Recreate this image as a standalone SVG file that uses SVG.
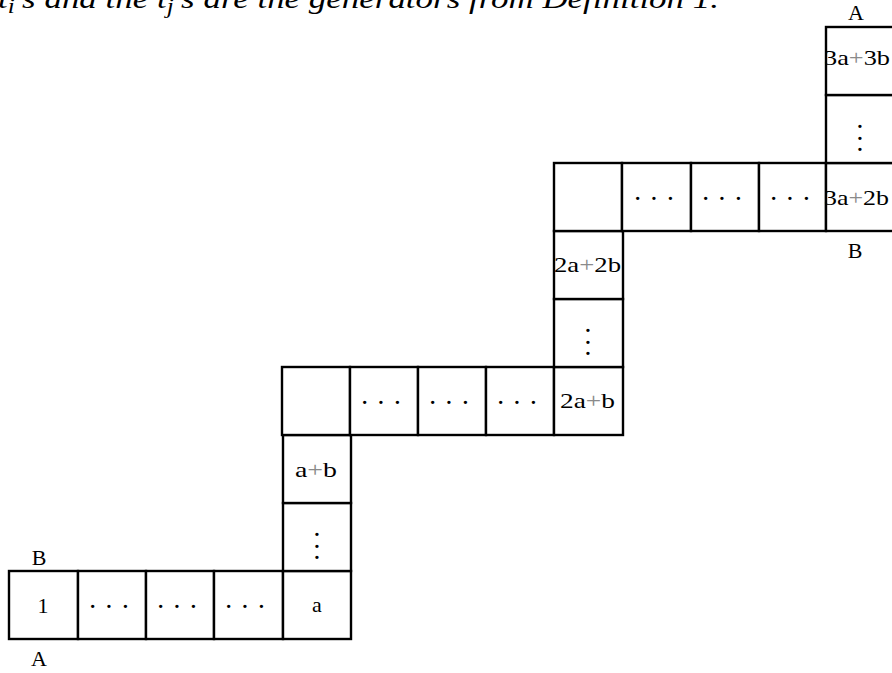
<svg xmlns="http://www.w3.org/2000/svg" width="892" height="673" viewBox="0 0 892 673">
<style>
  .cell { fill: #ffffff; stroke: #000000; stroke-width: 2.4; }
  .t { font-family: "Liberation Serif", "DejaVu Serif", serif; font-size: 22px; fill: #000000; }
  .mid { text-anchor: middle; }
  .p { fill: #8a8a8a; }
  .dots { font-family: "Liberation Serif", "DejaVu Serif", serif; font-size: 28px; text-anchor: middle; fill: #000000; }
  .cap { font-family: "Liberation Serif", "DejaVu Serif", serif; font-size: 28px; font-style: italic; fill: #000000; }
</style>
<rect width="892" height="673" fill="#ffffff"/>

<text class="cap" x="-2" y="8" textLength="721" lengthAdjust="spacingAndGlyphs">t<tspan font-size="20" dy="5">i</tspan><tspan dy="-5">'s and the t</tspan><tspan font-size="20" dy="5">j</tspan><tspan dy="-5">'s are the generators from Definition 1.</tspan></text>

<g id="bottom-row">
  <g id="cell-1"><rect class="cell" x="9" y="571" width="69" height="68"/><text class="t mid" x="43" y="613">1</text></g>
  <g id="cell-b2"><rect class="cell" x="78" y="571" width="68" height="68"/><text class="dots" x="109" y="616">· · ·</text></g>
  <g id="cell-b3"><rect class="cell" x="146" y="571" width="68" height="68"/><text class="dots" x="177" y="616">· · ·</text></g>
  <g id="cell-b4"><rect class="cell" x="214" y="571" width="69" height="68"/><text class="dots" x="245" y="616">· · ·</text></g>
  <g id="cell-a"><rect class="cell" x="283" y="571" width="68" height="68"/><text class="t mid" x="317" y="612">a</text></g>
</g>
<g id="column-1">
  <g id="cell-c1v"><rect class="cell" x="283" y="503" width="68" height="68"/><text class="dots" x="317"><tspan x="317" y="544">·</tspan><tspan x="317" y="555.5">·</tspan><tspan x="317" y="567">·</tspan></text></g>
  <g id="cell-ab"><rect class="cell" x="283" y="435" width="68" height="68"/><text class="t" x="295" y="477" textLength="42" lengthAdjust="spacingAndGlyphs">a<tspan class="p">+</tspan>b</text></g>
</g>
<g id="middle-row">
  <g id="cell-m1"><rect class="cell" x="282" y="367" width="68" height="68"/></g>
  <g id="cell-m2"><rect class="cell" x="350" y="367" width="68" height="68"/><text class="dots" x="381" y="412">· · ·</text></g>
  <g id="cell-m3"><rect class="cell" x="418" y="367" width="68" height="68"/><text class="dots" x="449" y="412">· · ·</text></g>
  <g id="cell-m4"><rect class="cell" x="486" y="367" width="68" height="68"/><text class="dots" x="517" y="412">· · ·</text></g>
  <g id="cell-2ab"><rect class="cell" x="554" y="367" width="69" height="68"/><text class="t" x="560" y="408" textLength="55" lengthAdjust="spacingAndGlyphs">2a<tspan class="p">+</tspan>b</text></g>
</g>
<g id="column-2">
  <g id="cell-c2v"><rect class="cell" x="554" y="299" width="69" height="68"/><text class="dots" x="588"><tspan x="588" y="340">·</tspan><tspan x="588" y="351.5">·</tspan><tspan x="588" y="363">·</tspan></text></g>
  <g id="cell-2a2b"><rect class="cell" x="554" y="231" width="69" height="68"/><text class="t" x="554" y="272" textLength="67" lengthAdjust="spacingAndGlyphs">2a<tspan class="p">+</tspan>2b</text></g>
</g>
<g id="top-row">
  <g id="cell-t1"><rect class="cell" x="554" y="163" width="68" height="68"/></g>
  <g id="cell-t2"><rect class="cell" x="622" y="163" width="69" height="68"/><text class="dots" x="654" y="208">· · ·</text></g>
  <g id="cell-t3"><rect class="cell" x="691" y="163" width="68" height="68"/><text class="dots" x="722" y="208">· · ·</text></g>
  <g id="cell-t4"><rect class="cell" x="759" y="163" width="67" height="68"/><text class="dots" x="790" y="208">· · ·</text></g>
  <g id="cell-3a2b"><rect class="cell" x="826" y="163" width="70" height="68"/><text class="t" x="824" y="205" textLength="65" lengthAdjust="spacingAndGlyphs">3a<tspan class="p">+</tspan>2b</text></g>
</g>
<g id="column-3">
  <g id="cell-c3v"><rect class="cell" x="826" y="95" width="70" height="68"/><text class="dots" x="860"><tspan x="860" y="136">·</tspan><tspan x="860" y="147.5">·</tspan><tspan x="860" y="159">·</tspan></text></g>
  <g id="cell-3a3b"><rect class="cell" x="826" y="27" width="70" height="68"/><text class="t" x="824" y="65" textLength="66" lengthAdjust="spacingAndGlyphs">3a<tspan class="p">+</tspan>3b</text></g>
</g>
<g id="labels">
  <text class="t mid" x="856" y="20">A</text>
  <text class="t mid" x="855" y="258">B</text>
  <text class="t mid" x="39" y="565">B</text>
  <text class="t mid" x="39" y="666">A</text>
</g>
</svg>
